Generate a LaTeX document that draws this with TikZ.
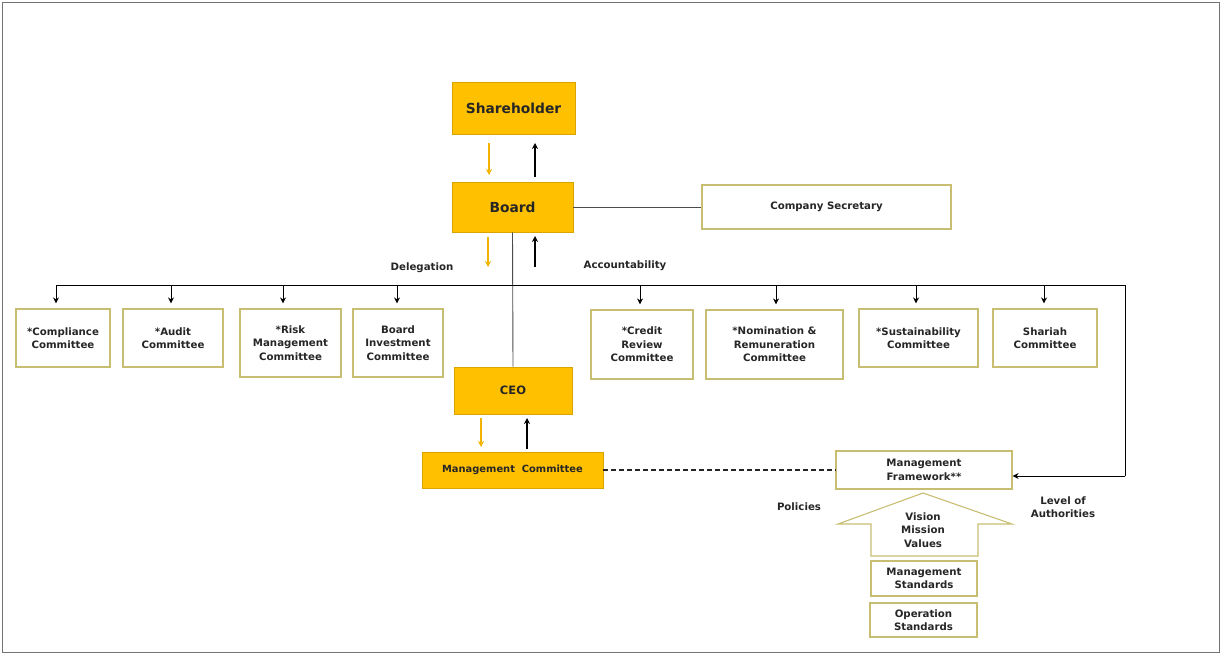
\documentclass[tikz,border=0pt]{standalone}
\usepackage{fontspec}
\setmainfont{DejaVu Sans}
\usetikzlibrary{arrows.meta}
\definecolor{gold}{HTML}{FFC000}
\definecolor{goldline}{HTML}{D9A300}
\definecolor{olive}{HTML}{C8BE72}
\definecolor{yarr}{HTML}{F2B400}
\definecolor{txt}{HTML}{262626}
\tikzset{
  orgbox/.style={draw=goldline, fill=gold, line width=0.8pt, inner sep=0pt, align=center, text=txt},
  combox/.style={draw=olive, fill=white, line width=1.1pt, inner sep=0pt, align=center, text=txt, font=\fontsize{10.2}{13.6}\selectfont\bfseries},
  lbl/.style={text=txt, font=\fontsize{10.2}{13.6}\selectfont\bfseries, align=center, inner sep=0pt},
  conn/.style={draw=black!70, line width=0.9pt},
  bus/.style={draw=black, line width=0.9pt},
  darr/.style={draw=black, line width=0.9pt, -{Stealth[length=6pt,width=6pt]}},
  yarr/.style={draw=yarr, line width=1.1pt, -{Stealth[length=6pt,width=6pt]}},
  barr/.style={draw=black, line width=1.4pt, -{Stealth[length=6pt,width=6pt]}},
}
\newcommand{\bx}[6]{\node[#1, minimum width={#5-#3}, minimum height={#6-#4}] (#2) at ({(#3+#5)/2},{(#4+#6)/2})}
\begin{document}
\begin{tikzpicture}[x=1pt,y=-1pt]
\useasboundingbox (0,0) rectangle (1221,655);
\draw[black!55, line width=1pt] (2,3) rectangle (1219,652);

% main chain
\bx{orgbox}{sh}{452}{82}{575}{134} {\fontsize{13.8}{16}\selectfont\bfseries Shareholder};
\bx{orgbox}{bd}{452}{182}{573}{232} {\fontsize{13.8}{16}\selectfont\bfseries Board};
\bx{combox}{cs}{702}{185}{951}{229} {Company Secretary};
\bx{orgbox}{ceo}{454}{367}{572}{414} {\fontsize{11.5}{12}\selectfont\bfseries CEO};
\bx{orgbox}{mc}{422}{452}{603}{488} {\fontsize{9.9}{12}\selectfont\bfseries Management\ \ Committee};

% committees
\bx{combox}{c1}{16}{309}{110}{367} {*Compliance\\Committee};
\bx{combox}{c2}{123}{309}{223}{367} {*Audit\\Committee};
\bx{combox}{c3}{240}{309}{341}{377} {*Risk\\Management\\Committee};
\bx{combox}{c4}{353}{309}{443}{377} {Board\\Investment\\Committee};
\bx{combox}{c5}{591}{310}{693}{379} {*Credit\\Review\\Committee};
\bx{combox}{c6}{706}{310}{843}{379} {*Nomination \&\\Remuneration\\Committee};
\bx{combox}{c7}{859}{309}{978}{367} {*Sustainability\\Committee};
\bx{combox}{c8}{993}{309}{1097}{367} {Shariah\\Committee};

% framework
\bx{combox}{mf}{836}{451}{1012}{489} {Management\\Framework**};
\draw[olive, fill=white, line width=1.1pt] (923,493) -- (1012,524) -- (978,524) -- (978,556) -- (871,556) -- (871,524) -- (838,524) -- cycle;
\node[lbl] (vmv) at (923,530) {Vision\\Mission\\Values};
\bx{combox}{ms}{871}{561}{977}{596} {Management\\Standards};
\bx{combox}{os}{870}{603}{977}{637} {Operation\\Standards};

% labels
\node[lbl] (dl) at (422,268) {Delegation};
\node[lbl] (ac) at (625,266) {Accountability};
\node[lbl] (po) at (799,507) {Policies};
\node[lbl] (la) at (1063,507) {Level of\\Authorities};

% connectors
\draw[conn] (bd.east) -- (cs.west);
\draw[conn] (bd.south) -- (ceo.north);
\coordinate (bl) at (56,285);
\coordinate (br) at (1125,285);
\coordinate (bb) at (1125,476);
\draw[bus] (bl) -- (br) -- (bb);
\draw[darr] (bb) -- (bb -| mf.east);
\foreach \n/\x in {c1/56,c2/171,c3/283,c4/397,c5/640,c6/776,c7/916,c8/1044}{
  \coordinate (t\n) at (\x,285);
  \draw[darr, shorten >=5pt] (t\n) -- (t\n |- \n.north);
}
\draw[line width=1.8pt, black!85, dash pattern=on 5pt off 3pt] (mc.east) -- (mc.east -| mf.west);

% delegation / accountability arrows
\coordinate (y1a) at (489,143); \coordinate (y1b) at (489,175);
\coordinate (b1a) at (535,177); \coordinate (b1b) at (535,143);
\draw[yarr] (y1a) -- (y1b);
\draw[barr] (b1a) -- (b1b);
\coordinate (y2a) at (488,237); \coordinate (y2b) at (488,267);
\coordinate (b2a) at (535,267); \coordinate (b2b) at (535,236);
\draw[yarr] (y2a) -- (y2b);
\draw[barr] (b2a) -- (b2b);
\coordinate (y3a) at (481,418); \coordinate (y3b) at (481,447);
\coordinate (b3a) at (527,449); \coordinate (b3b) at (527,418);
\draw[yarr] (y3a) -- (y3b);
\draw[barr] (b3a) -- (b3b);
\end{tikzpicture}
\end{document}
